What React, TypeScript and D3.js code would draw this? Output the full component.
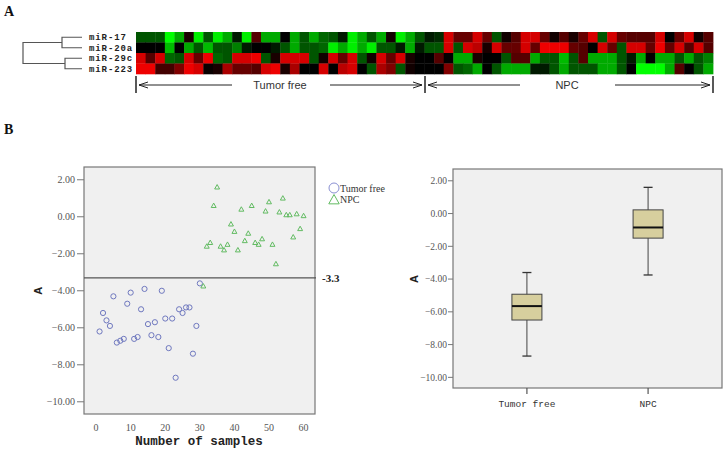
import React from "react";
import * as d3 from "d3";

// ---------- DATA ----------
const genes = ["miR-17", "miR-20a", "miR-29c", "miR-223"];
// heat values, 30 tumor-free samples then 30 NPC samples
const miR17 = [-1, -1, -1, -3, -2, 0.3, -2.8, -1, -2.8, -2, -0.3, -2.8, 1, -2, -2, 0, -2, -1, -2, -1.2, -1, -0.3, -2.8, -2, -1, -2, 0.2, -2.8, -2, -1,
  -0.3, -0.5, 2.5, 1.2, 1.2, 2.5, 1.2, -1, 0.2, 1, 2.5, 2.5, 1.2, 0.2, 1, 0.3, 1.2, 2.5, -1, 2.5, 1.2, 1, 1, 1, 2.5, 0, 1.2, 2.5, 0.2, 1];
const miR20a = [0, 0, 0, -2.2, 0, -2, -1, -2.2, -1, -1, -1.5, -0.3, 0, 0, -0.3, -1, -2, -1, -1, -1.2, -2.8, -2, -2.8, -2, -2.8, -1, -1, -0.3, -2, -0.3,
  -1, -1, 2.5, -1, 2.5, 2.2, 0.3, 2.5, 1.2, 1.2, 2.5, 1.2, 2.8, 2.8, 2.8, 1.2, 1, 0, 2.5, 1.2, -1, 2.5, 2.5, 1.2, 2.8, 1.2, 2.5, 1, 2.5, 1];
const miR29c = [2.5, 1, 2.5, -1.2, -1, 2.5, 1.2, 2.8, -1.2, -1, 2.5, 2.5, 2.8, -1, 0.3, 2.5, 2.5, 2.5, -1, 0.2, 2.5, 1.2, 2.5, -1, 0.2, 2.5, 1.2, 2.5, 0.3, 0,
  0, 1, 0, -2, -2, 0.3, 0, 0, -1, 1, 1, -2, -1, -1, -2.2, -1, 1, -2, -2, -2, -1, -0.3, -2, 0, -2, -2, -1, -2, -1, -1.5];
const miR223 = [2.8, 2.8, 0.8, 0.8, 1.5, 2.8, 2.5, 0.1, 0.3, 2, 1.2, 1.2, 1, 2.5, 2.8, 0.3, 2, 0, 0, 2.5, 0, 2.2, 2.5, 0, -1, 2, 1.5, -1, 0.2, 0,
  0, 0, 1.5, -1, -1.2, -2, 0, -1, -2, -2, -2, -0.3, -0.3, -1, -2, -1, -1, -1, -2, -2, -1, 0, -3, -3, -3, -2, 1, 0, -1, -2];
const heatRows = [miR17, miR20a, miR29c, miR223];

// scatter: sample index and score
const tumorFreeX = d3.range(1, 31);
const tumorFreeY = [-6.2, -5.2, -5.6, -5.9, -4.3, -6.8, -6.7, -6.6, -4.7, -4.1, -6.6, -6.5, -5.0, -3.9, -5.8, -6.4, -5.7, -6.5, -4.0, -5.5, -7.1, -5.5, -8.7, -5.0, -5.2, -4.9, -4.9, -7.4, -5.9, -3.6];
const npcX = d3.range(31, 61);
const npcY = [-3.75, -1.6, -1.4, 0.6, 1.6, -1.6, -1.8, -1.5, -0.4, -0.8, -1.8, 0.4, -1.3, -0.9, 0.6, -1.4, -1.5, -1.2, 0.3, 0.8, -1.5, -2.55, 0.25, 1.0, 0.1, 0.1, -1.1, 0.15, -0.65, 0.05];
const groups = ["Tumor free", "NPC"];
const yTicks = [2, 0, -2, -4, -6, -8, -10];
const xTicks = [0, 10, 20, 30, 40, 50, 60];
const cutoff = -3.3;

// ---------- COMPONENT ----------
export default function App() {
  // heatmap
  const nCols = miR17.length;
  const hx = d3.scaleBand<number>().domain(d3.range(nCols)).range([136, 713]);
  const hy = d3.scaleBand<string>().domain(genes).range([32, 74]);
  const heatColor = d3.scaleLinear<string>().domain([-3, 0, 3]).range(["#00ff00", "#000000", "#ff0000"]).clamp(true);

  // scatter
  const sx = d3.scaleLinear().domain([-3.5, 63.3]).range([84, 315]);
  const sy = d3.scaleLinear().domain([-10.66, 2.69]).range([414, 167]);
  const fmt = d3.format(".2f");

  // box
  const bx = d3.scalePoint<string>().domain(groups).range([453, 722]).padding(0.61);
  const by = d3.scaleLinear().domain([-10.65, 2.72]).range([388, 169]);
  const stats = [tumorFreeY, npcY].map((vals) => {
    const s = vals.slice().sort(d3.ascending);
    return {
      min: d3.min(s)!, max: d3.max(s)!,
      q1: d3.quantile(s, 0.25)!, med: d3.quantile(s, 0.5)!, q3: d3.quantile(s, 0.75)!,
    };
  });
  const boxW = 30;
  const capW = 9;

  const tri = (cx: number, cy: number, r: number) =>
    `M${cx},${cy - r}L${cx + r * 0.95},${cy + r * 0.7}L${cx - r * 0.95},${cy + r * 0.7}Z`;

  const rowMid = (g: string) => hy(g)! + hy.bandwidth() / 2;
  const y17 = rowMid("miR-17"), y20 = rowMid("miR-20a"), y29 = rowMid("miR-29c"), y223 = rowMid("miR-223");
  const top = (y17 + y20) / 2, bot = (y29 + y223) / 2;

  const arrow = (x1: number, x2: number, y: number, dir: "left" | "right") => {
    const tip = dir === "left" ? x1 : x2;
    const back = dir === "left" ? tip + 9 : tip - 9;
    return (
      <g stroke="#222" strokeWidth={1} fill="none">
        <line x1={x1} x2={x2} y1={y} y2={y} />
        <path d={`M${back},${y - 3}L${tip},${y}L${back},${y + 3}`} />
      </g>
    );
  };

  return (
    <div style={{ position: "fixed", left: 0, top: 0 }}>
      <svg width={726} height={452} style={{ display: "block", background: "#fff" }}>
        {/* Panel labels */}
        <text x={4} y={16} fontFamily="Liberation Serif" fontWeight="bold" fontSize={14} fill="#111">A</text>
        <text x={4} y={134} fontFamily="Liberation Serif" fontWeight="bold" fontSize={14} fill="#111">B</text>

        {/* Dendrogram */}
        <g stroke="#555" strokeWidth={1.2} fill="none">
          <path d={`M82,${y17}H62V${y20}H82`} />
          <path d={`M82,${y29}H65V${y223}H82`} />
          <path d={`M62,${top}H23V${bot}H65`} />
        </g>
        {genes.map((g) => (
          <text key={g} x={89} y={rowMid(g)} dy="0.33em" fontFamily="Liberation Mono" fontWeight="bold" fontSize={9} letterSpacing={0.9} fill="#222">{g}</text>
        ))}

        {/* Heatmap */}
        {heatRows.map((row, r) =>
          row.map((v, c) => (
            <rect key={`${r}-${c}`} x={hx(c)} y={hy(genes[r])} width={hx.bandwidth() + 0.4} height={hy.bandwidth() + 0.3} fill={heatColor(v)} />
          ))
        )}

        {/* Group brackets */}
        <g stroke="#222" strokeWidth={1.5}>
          <line x1={136} x2={136} y1={76} y2={93} />
          <line x1={425} x2={425} y1={76} y2={93} />
          <line x1={713} x2={713} y1={76} y2={93} />
        </g>
        {arrow(139, 232, 85, "left")}
        {arrow(330, 422, 85, "right")}
        {arrow(428, 520, 85, "left")}
        {arrow(615, 710, 85, "right")}
        <text x={280} y={89} textAnchor="middle" fontFamily="Liberation Sans" fontSize={11} fill="#333">Tumor free</text>
        <text x={567} y={89} textAnchor="middle" fontFamily="Liberation Sans" fontSize={11} fill="#333">NPC</text>

        {/* Scatter plot */}
        <rect x={84} y={167} width={231} height={247} fill="#f0f0f0" stroke="#777" strokeWidth={1.2} />
        <line x1={84} x2={316} y1={sy(cutoff)} y2={sy(cutoff)} stroke="#555" strokeWidth={1.2} />
        <text x={322} y={sy(cutoff) + 4} fontFamily="Liberation Serif" fontWeight="bold" fontSize={11} fill="#222">-3.3</text>
        {yTicks.map((t) => (
          <g key={t}>
            <line x1={77} x2={84} y1={sy(t)} y2={sy(t)} stroke="#777" />
            <text x={75} y={sy(t)} dy="0.35em" textAnchor="end" fontFamily="Liberation Serif" fontSize={10} fill="#555">{fmt(t)}</text>
          </g>
        ))}
        {xTicks.map((t) => (
          <text key={t} x={sx(t)} y={431} textAnchor="middle" fontFamily="Liberation Serif" fontSize={10} fill="#555">{t}</text>
        ))}
        <text x={199} y={445} textAnchor="middle" fontFamily="Liberation Mono" fontWeight="bold" fontSize={12.5} fill="#222">Number of samples</text>
        <text transform={`translate(42,${sy(-4)}) rotate(-90)`} textAnchor="middle" fontFamily="Liberation Sans" fontWeight="bold" fontSize={11} fill="#222">A</text>
        {tumorFreeY.map((v, i) => (
          <circle key={`t${i}`} cx={sx(tumorFreeX[i])} cy={sy(v)} r={2.6} fill="none" stroke="#6f78bf" strokeWidth={1} />
        ))}
        {npcY.map((v, i) => (
          <path key={`n${i}`} d={tri(sx(npcX[i]), sy(v), 2.6)} fill="none" stroke="#62bb62" strokeWidth={1} />
        ))}
        {/* legend */}
        <circle cx={334} cy={188} r={5} fill="none" stroke="#8a90d2" strokeWidth={1} />
        <text x={340} y={191.5} fontFamily="Liberation Serif" fontSize={10} fill="#333">Tumor free</text>
        <path d={tri(334, 200, 5.5)} fill="none" stroke="#62bb62" strokeWidth={1} />
        <text x={340} y={203} fontFamily="Liberation Serif" fontSize={10} fill="#333">NPC</text>

        {/* Box plot */}
        <rect x={453} y={169} width={269} height={219} fill="#f0f0f0" stroke="#777" strokeWidth={1.2} />
        {yTicks.map((t) => (
          <g key={`b${t}`}>
            <line x1={448} x2={453} y1={by(t)} y2={by(t)} stroke="#777" />
            <text x={447} y={by(t)} dy="0.35em" textAnchor="end" fontFamily="Liberation Serif" fontSize={9.5} fill="#555">{fmt(t)}</text>
          </g>
        ))}
        <text transform={`translate(418,${by(-4)}) rotate(-90)`} textAnchor="middle" fontFamily="Liberation Sans" fontWeight="bold" fontSize={11} fill="#222">A</text>
        {groups.map((g, i) => {
          const cx = bx(g)!;
          const s = stats[i];
          return (
            <g key={g}>
              <line x1={cx} x2={cx} y1={388} y2={394} stroke="#555" strokeWidth={1.2} />
              <text x={cx} y={407} textAnchor="middle" fontFamily="Liberation Mono" fontSize={9.5} fill="#333">{g}</text>
              <line x1={cx} x2={cx} y1={by(s.max)} y2={by(s.min)} stroke="#444" strokeWidth={1} />
              <line x1={cx - capW / 2} x2={cx + capW / 2} y1={by(s.max)} y2={by(s.max)} stroke="#333" strokeWidth={1.3} />
              <line x1={cx - capW / 2} x2={cx + capW / 2} y1={by(s.min)} y2={by(s.min)} stroke="#333" strokeWidth={1.3} />
              <rect x={cx - boxW / 2} y={by(s.q3)} width={boxW} height={by(s.q1) - by(s.q3)} fill="#d7cf9e" stroke="#444" strokeWidth={1} />
              <line x1={cx - boxW / 2} x2={cx + boxW / 2} y1={by(s.med)} y2={by(s.med)} stroke="#111" strokeWidth={2} />
            </g>
          );
        })}
      </svg>
    </div>
  );
}
